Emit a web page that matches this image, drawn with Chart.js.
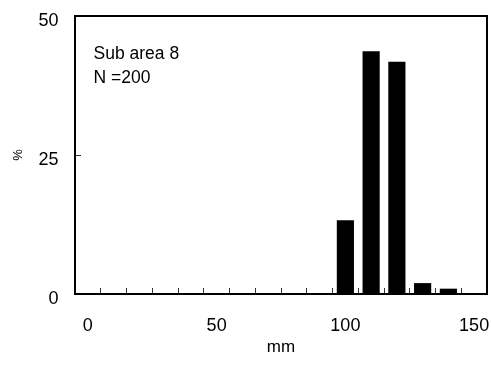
<!DOCTYPE html>
<html>
<head>
<meta charset="utf-8">
<script src="https://cdn.jsdelivr.net/npm/chart.js@4/dist/chart.umd.min.js"></script>
<style>
  html, body { margin: 0; padding: 0; background: #fff; }
  canvas { display: block; }
</style>
</head>
<body>
<canvas id="c" width="491" height="367"></canvas>
<script>
// ---- data ----
const sizeClasses   = [100, 110, 120, 130, 140];      // mm (bar centres)
const percentValues = [13.2, 43.6, 41.7, 1.9, 0.9];   // %
const xLabelTicks   = [0, 50, 100, 150];
const xMarkTicks    = [5, 15, 25, 35, 45, 55, 65, 75, 85, 95, 105, 115, 125, 135, 145];
const yTickValues   = [0, 25, 50];
const annotationLines = ['Sub area 8', 'N =200'];
const xTitle = 'mm';
const yTitle = '%';

const FONT = "'Liberation Sans', Arial, sans-serif";

const allXTicks = xLabelTicks.concat(xMarkTicks).sort((a, b) => a - b);

const framePlugin = {
  id: 'frame',
  afterDraw(chart) {
    const {ctx, chartArea: a} = chart;
    ctx.save();
    ctx.strokeStyle = '#000';
    ctx.lineWidth = 2;
    ctx.strokeRect(a.left, a.top, a.right - a.left, a.bottom - a.top);
    ctx.fillStyle = '#000';
    ctx.font = '17.5px ' + FONT;
    ctx.textBaseline = 'alphabetic';
    ctx.textAlign = 'left';
    annotationLines.forEach((t, i) => {
      ctx.fillText(t, a.left + 18.5, a.top + 42.7 + i * 24.6);
    });
    ctx.restore();
  }
};

new Chart(document.getElementById('c'), {
  type: 'bar',
  data: {
    datasets: [{
      data: sizeClasses.map((x, i) => ({x: x, y: percentValues[i]})),
      backgroundColor: '#000',
      borderWidth: 0,
      barThickness: 16.5
    }]
  },
  options: {
    responsive: false,
    animation: false,
    devicePixelRatio: 1,
    layout: { padding: { top: 16, right: 4, bottom: 0, left: 0 } },
    plugins: { legend: { display: false }, tooltip: { enabled: false } },
    scales: {
      x: {
        type: 'linear',
        min: -5, max: 155,
        offset: false,
        border: { display: false },
        grid: {
          offset: false,
          drawOnChartArea: false,
          drawTicks: true,
          tickLength: -6,
          lineWidth: 1,
          tickColor: (ctx) => (ctx.tick && xLabelTicks.includes(ctx.tick.value)) ? 'rgba(0,0,0,0)' : '#333'
        },
        afterBuildTicks: (s) => { s.ticks = allXTicks.map(v => ({value: v})); },
        afterFit: (s) => { s.height = 73; s.paddingLeft = 0; s.paddingRight = 0; },
        ticks: {
          autoSkip: false,
          maxRotation: 0,
          padding: 27.5,
          color: '#000',
          font: { family: FONT, size: 18 },
          callback: (v) => xLabelTicks.includes(v) ? String(v) : ''
        },
        title: {
          display: true,
          text: xTitle,
          color: '#000',
          font: { family: FONT, size: 17 },
          padding: { top: 0, bottom: 9 }
        }
      },
      y: {
        type: 'linear',
        min: 0, max: 50,
        border: { display: false },
        grid: {
          drawOnChartArea: false,
          drawTicks: true,
          tickLength: -6,
          lineWidth: 1,
          tickColor: '#333'
        },
        afterBuildTicks: (s) => { s.ticks = yTickValues.map(v => ({value: v})); },
        afterFit: (s) => { s.width = 75; s.paddingTop = 0; s.paddingBottom = 0; },
        ticks: {
          padding: 22.5,
          labelOffset: 5,
          color: '#000',
          font: { family: FONT, size: 18 }
        },
        title: {
          display: true,
          text: yTitle,
          color: '#000',
          font: { family: FONT, size: 13 },
          padding: { top: 10.5, bottom: 0 }
        }
      }
    }
  },
  plugins: [framePlugin]
});
</script>
</body>
</html>
